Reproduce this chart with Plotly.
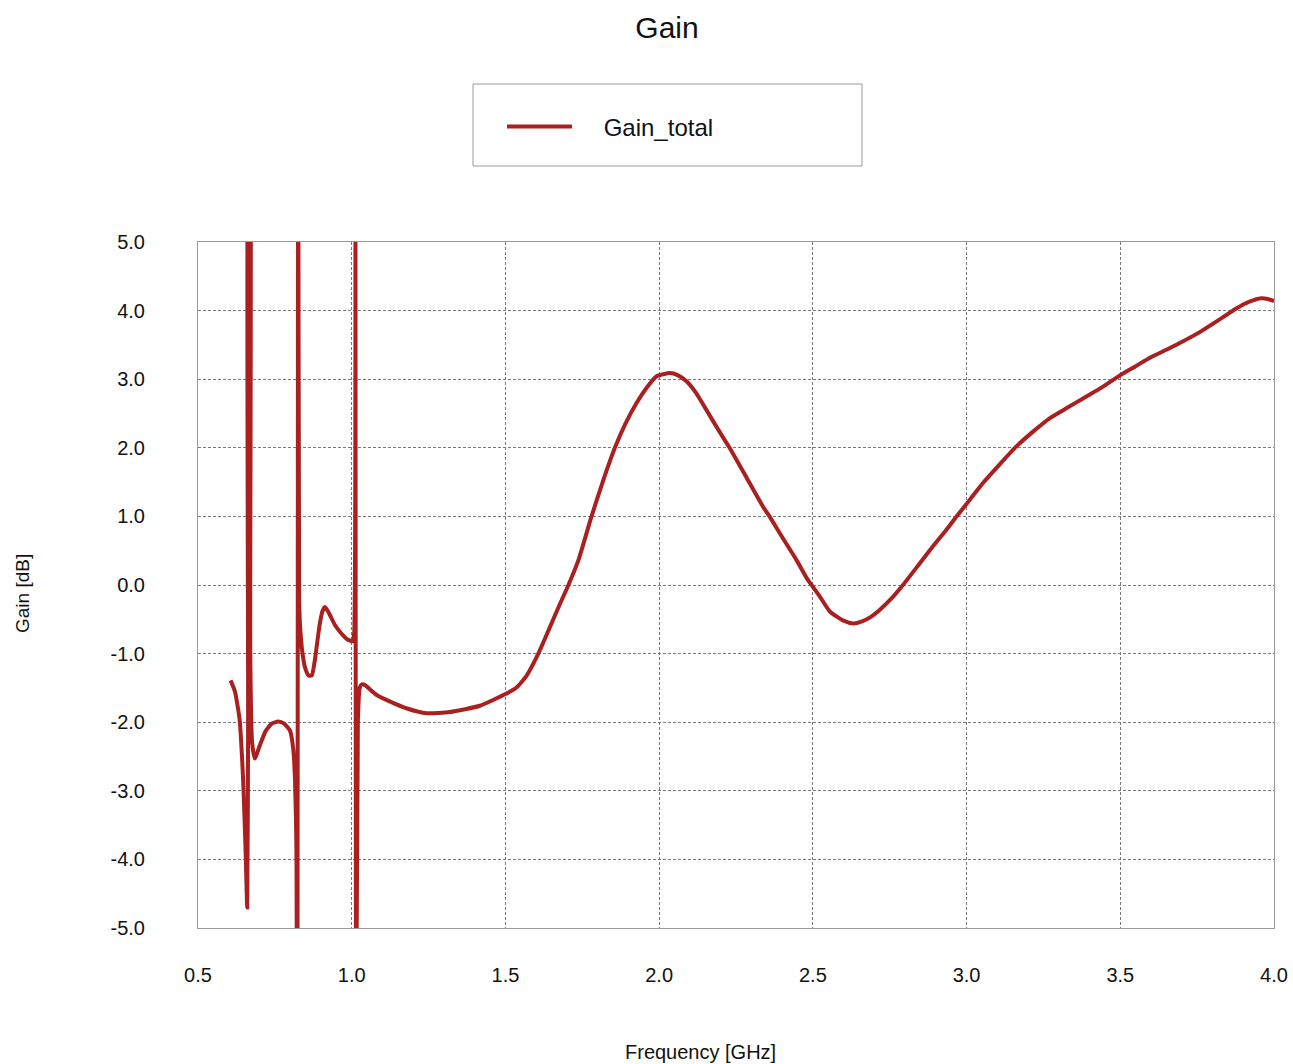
import plotly.graph_objects as go

freq_ghz = [
    0.606, 0.620, 0.635, 0.647, 0.655, 0.660, 0.663, 0.6655, 0.6675, 0.670,
    0.676, 0.685, 0.700, 0.720, 0.740, 0.761, 0.780, 0.799, 0.810, 0.816,
    0.820, 0.823, 0.826, 0.829, 0.832, 0.840, 0.848, 0.860, 0.870, 0.880,
    0.895, 0.905, 0.913, 0.925, 0.945, 0.965, 0.985, 1.003, 1.008, 1.012,
    1.014, 1.020, 1.026, 1.032, 1.043, 1.080, 1.125, 1.180, 1.244, 1.320,
    1.417, 1.500, 1.537, 1.569, 1.607, 1.645, 1.678, 1.705, 1.738, 1.780,
    1.820, 1.856, 1.890, 1.926, 1.960, 1.991, 2.035, 2.060, 2.089, 2.120,
    2.154, 2.190, 2.229, 2.280, 2.338, 2.359, 2.400, 2.446, 2.480, 2.520,
    2.556, 2.600, 2.631, 2.660, 2.690, 2.718, 2.755, 2.793, 2.840, 2.890,
    2.930, 2.966, 3.010, 3.054, 3.110, 3.162, 3.220, 3.270, 3.330, 3.379,
    3.440, 3.500, 3.550, 3.595, 3.650, 3.703, 3.760, 3.812, 3.850, 3.877,
    3.920, 3.958, 3.980, 4.000,
]
gain_total_db = [
    -1.39, -1.55, -1.95, -2.86, -3.90, -4.70, -2.00, 8.00, 8.00, -1.00,
    -2.30, -2.53, -2.35, -2.13, -2.02, -1.99, -2.02, -2.12, -2.40, -2.90,
    -3.80, -8.00, 8.00, -0.20, -0.60, -1.00, -1.20, -1.32, -1.32, -1.10,
    -0.60, -0.38, -0.32, -0.40, -0.58, -0.70, -0.79, -0.82, -0.70, 8.00,
    -8.00, -2.00, -1.50, -1.45, -1.46, -1.60, -1.70, -1.80, -1.87, -1.85,
    -1.76, -1.59, -1.49, -1.32, -1.00, -0.61, -0.27, 0.00, 0.37, 1.00,
    1.55, 2.00, 2.35, 2.65, 2.88, 3.04, 3.09, 3.06, 2.97, 2.80,
    2.55, 2.28, 2.00, 1.60, 1.14, 1.00, 0.70, 0.37, 0.10, -0.15,
    -0.39, -0.52, -0.56, -0.53, -0.46, -0.36, -0.20, 0.00, 0.27, 0.56,
    0.78, 0.99, 1.24, 1.49, 1.77, 2.02, 2.25, 2.43, 2.59, 2.72,
    2.88, 3.06, 3.19, 3.31, 3.43, 3.55, 3.69, 3.84, 3.95, 4.03,
    4.13, 4.18, 4.17, 4.14,
]

x_tick_vals = [0.5, 1.0, 1.5, 2.0, 2.5, 3.0, 3.5, 4.0]
x_tick_text = ["0.5", "1.0", "1.5", "2.0", "2.5", "3.0", "3.5", "4.0"]
y_tick_vals = [5, 4, 3, 2, 1, 0, -1, -2, -3, -4, -5]
y_tick_text = ["5.0", "4.0", "3.0", "2.0", "1.0", "0.0", "-1.0", "-2.0", "-3.0", "-4.0", "-5.0"]

FONT = "Liberation Sans, Arial, sans-serif"
W, H = 1293, 1064
L, R, T, B = 198, 19, 242, 136
PW, PH = W - L - R, H - T - B


def px_x(p):
    return (p - L) / PW


def px_y(p):
    return (H - B - p) / PH


fig = go.Figure()
fig.add_trace(go.Scatter(
    x=freq_ghz, y=gain_total_db, mode="lines",
    name="\u00a0\u00a0\u00a0\u00a0Gain_total",
    line=dict(color="#AA2020", width=4, shape="spline", smoothing=0.5),
))

axis_common = dict(
    showline=True, mirror=True, linecolor="#9a9a9a", linewidth=1,
    showgrid=True, gridcolor="#7a7a7a", gridwidth=1, griddash="3px,2px",
    zeroline=False, ticks="", automargin=False,
    tickfont=dict(family=FONT, size=20, color="#111"),
)

fig.update_layout(
    width=W, height=H,
    margin=dict(l=L, r=R, t=T, b=B),
    paper_bgcolor="white", plot_bgcolor="white",
    font=dict(family=FONT, color="#111"),
    title=dict(text="Gain", x=667 / W, y=1 - 27 / H, xref="container", yref="container",
               xanchor="center", yanchor="middle", font=dict(family=FONT, size=30, color="#111")),
    xaxis=dict(range=[0.5, 4.0], tickvals=x_tick_vals, ticktext=x_tick_text,
               ticklabelstandoff=29, **axis_common),
    yaxis=dict(range=[-5, 5], tickvals=y_tick_vals, ticktext=y_tick_text,
               ticklabelstandoff=48, **axis_common),
    showlegend=True,
    legend=dict(x=px_x(502), y=px_y(127), xanchor="left", yanchor="middle",
                xref="paper", yref="paper", bgcolor="rgba(0,0,0,0)", borderwidth=0,
                itemwidth=65, font=dict(family=FONT, size=24, color="#111")),
    shapes=[dict(type="rect", xref="paper", yref="paper",
                 x0=px_x(473), x1=px_x(862), y0=px_y(166), y1=px_y(84),
                 line=dict(color="#9a9a9a", width=1), fillcolor="rgba(0,0,0,0)", layer="below")],
    annotations=[
        dict(text="Gain [dB]", xref="paper", yref="paper", x=px_x(22), y=px_y(594),
             textangle=-90, showarrow=False, xanchor="center", yanchor="middle",
             font=dict(family=FONT, size=19, color="#111")),
        dict(text="Frequency [GHz]", xref="paper", yref="paper", x=px_x(700), y=px_y(1052),
             showarrow=False, xanchor="center", yanchor="middle",
             font=dict(family=FONT, size=20, color="#111")),
    ],
)

fig.write_html("out.html")
